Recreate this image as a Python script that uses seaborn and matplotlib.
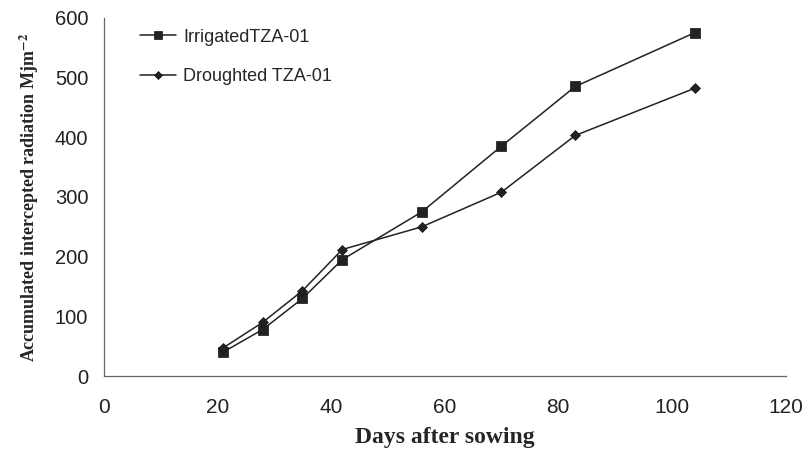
import matplotlib
matplotlib.use("Agg")
import matplotlib.pyplot as plt
import seaborn as sns
import pandas as pd

days = [21, 28, 35, 42, 56, 70, 83, 104]
irrigated = [40, 78, 130, 195, 275, 385, 485, 575]
droughted = [47, 90, 143, 212, 250, 308, 403, 482]
series_names = ["IrrigatedTZA-01", "Droughted TZA-01"]
x_ticks = [0, 20, 40, 60, 80, 100, 120]
y_ticks = [0, 100, 200, 300, 400, 500, 600]

df = pd.DataFrame({
    "Days": days * 2,
    "Radiation": irrigated + droughted,
    "Series": [series_names[0]] * len(days) + [series_names[1]] * len(days),
})

sns.set_style("white")
plt.rcParams["font.family"] = ["Liberation Sans", "DejaVu Sans"]
plt.rcParams["mathtext.fontset"] = "stix"

fig = plt.figure(figsize=(8.09, 4.57), dpi=100)
ax = fig.add_axes([0.128, 0.177, 0.843, 0.784])

sns.lineplot(data=df, x="Days", y="Radiation", hue="Series", style="Series",
             markers={series_names[0]: "s", series_names[1]: "D"}, dashes=False,
             palette={series_names[0]: "#222222", series_names[1]: "#222222"},
             markersize=7, linewidth=1.1, markeredgewidth=0.5, markeredgecolor="#111111",
             ax=ax)

for ln in ax.lines:
    if ln.get_marker() == "D":
        ln.set_markersize(5)

ax.set_xlim(0, 120)
ax.set_ylim(0, 600)
ax.set_xticks(x_ticks)
ax.set_yticks(y_ticks)
sns.despine(ax=ax)
for s in ["left", "bottom"]:
    ax.spines[s].set_color("#666666")
    ax.spines[s].set_linewidth(0.9)
ax.tick_params(axis="both", which="both", direction="out", length=5, width=0.9,
               color="#666666", labelcolor="#222222")
ax.tick_params(axis="y", labelsize=14.5, pad=6)
ax.tick_params(axis="x", labelsize=15, pad=11)

ax.set_xlabel("Days after sowing", fontfamily="Liberation Serif", fontweight="bold",
              fontsize=17, labelpad=7)
ax.set_ylabel("Accumulated intercepted radiation Mjm$^{\\mathbf{-2}}$",
              fontfamily="Liberation Serif", fontweight="bold", fontsize=13, labelpad=10)

handles, labels = ax.get_legend_handles_labels()
for h in handles:
    if h.get_marker() == "D":
        h.set_markersize(5)
ax.legend(handles, labels, loc="upper left", bbox_to_anchor=(0.04, 0.995),
          frameon=False, fontsize=13, handlelength=2.0, handletextpad=0.4,
          labelspacing=1.25, borderpad=0, markerscale=0.9)

fig.savefig("out.png", dpi=100, facecolor="white")
